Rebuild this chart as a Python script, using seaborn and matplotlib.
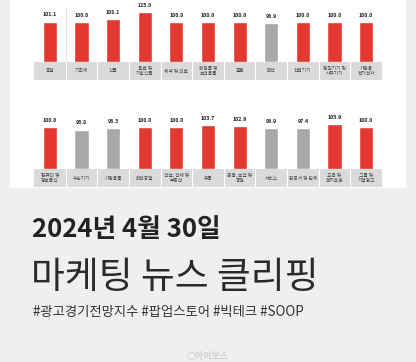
import matplotlib
matplotlib.use("Agg")
import matplotlib.pyplot as plt
import seaborn as sns
import pandas as pd

# 광고경기전망지수 (업종별)
row1_labels = ["종합", "기초재", "식품", "음료 및\n기호식품", "제약 및 의료", "화장품 및\n보건용품",
               "출판", "패션", "산업기기", "정밀기기 및\n사무기기", "가정용\n전기전자"]
row1_values = [101.1, 100.0, 108.1, 125.0, 100.0, 100.0, 100.0, 96.9, 100.0, 100.0, 100.0]

row2_labels = ["컴퓨터 및\n정보통신", "수송기기", "가정용품", "화학공업", "건설, 건재 및\n부동산", "유통",
               "금융, 보험 및\n증권", "서비스", "관공서 및 단체", "교육 및\n복지후생", "그룹 및\n기업광고"]
row2_values = [100.0, 93.8, 96.3, 100.0, 100.0, 103.7, 102.9, 96.9, 97.4, 105.9, 100.0]

title_date = "2024년 4월 30일"
title_main = "마케팅 뉴스 클리핑"
hashtags = "#광고경기전망지수 #팝업스토어 #빅테크 #SOOP"
logo = "아이보스"

RED = "#e2382f"
GREY = "#a8a8a8"
BOX = "#dadada"
BG = "#efefef"

sns.set_theme(style="white")
plt.rcParams['font.family'] = ['Noto Sans CJK KR', 'DejaVu Sans']

W, H = 416, 362
fig = plt.figure(figsize=(W / 100, H / 100), dpi=100)
fig.patch.set_facecolor(BG)


def px_axes(x0, y0, x1, y1):
    # pixel box (top-left origin) -> figure axes
    return fig.add_axes([x0 / W, 1 - y1 / H, (x1 - x0) / W, (y1 - y0) / H])


# white card
card = px_axes(10, 0, 406, 188)
card.set_facecolor("white")
card.set_xticks([])
card.set_yticks([])
for s in card.spines.values():
    s.set_visible(False)


def bar_row(labels, values, top, bottom, ymax, sep=False):
    df = pd.DataFrame({"label": labels, "value": values})
    df["col"] = [RED if v >= 100 else GREY for v in values]
    ax = px_axes(34, top, 382, bottom)
    sns.barplot(data=df, x="label", y="value", hue="label", palette=list(df["col"]),
                legend=False, width=0.45, ax=ax, saturation=1)
    for c in ax.containers:
        ax.bar_label(c, fmt="%.1f", padding=3, fontsize=3.8, color="#222222",
                     fontweight="bold")
    ax.set_ylim(0, ymax)
    ax.set_xlim(-0.5, len(labels) - 0.5)
    ax.set_facecolor("none")
    ax.set_xlabel("")
    ax.set_ylabel("")
    ax.set_xticks([])
    ax.set_yticks([])
    for s in ax.spines.values():
        s.set_visible(False)
    if sep:
        ax.axvline(0.5, ymin=0, ymax=0.87, color="#dddddd", lw=0.6)

    lab = px_axes(34, bottom, 382, bottom + 18)
    lab.set_facecolor(BOX)
    lab.set_xlim(-0.5, len(labels) - 0.5)
    lab.set_ylim(0, 1)
    for i in range(1, len(labels)):
        lab.axvline(i - 0.5, color="white", lw=0.8)
    for i, t in enumerate(labels):
        lab.text(i, 0.5, t, ha="center", va="center", fontsize=3.4,
                 color="#444444", linespacing=1.1)
    lab.set_xticks([])
    lab.set_yticks([])
    for s in lab.spines.values():
        s.set_visible(False)


bar_row(row1_labels, row1_values, 0, 62, 155, sep=True)
bar_row(row2_labels, row2_values, 100, 169, 164)

fig.text(32 / W, 1 - 237 / H, title_date, fontsize=18.5, fontweight="heavy",
         color="#222222", va="baseline", ha="left")
fig.text(31 / W, 1 - 288 / H, title_main, fontsize=26.5, fontweight="light",
         color="#2a2a2a", va="baseline", ha="left")
fig.text(33 / W, 1 - 316 / H, hashtags, fontsize=9.6, color="#333333",
         va="baseline", ha="left")
fig.text(208 / W, 1 - 359 / H, "○" + logo, fontsize=6.5, color="#cfcfcf",
         va="baseline", ha="center", fontweight="bold")

fig.savefig("out.png", dpi=100, facecolor=fig.get_facecolor())
